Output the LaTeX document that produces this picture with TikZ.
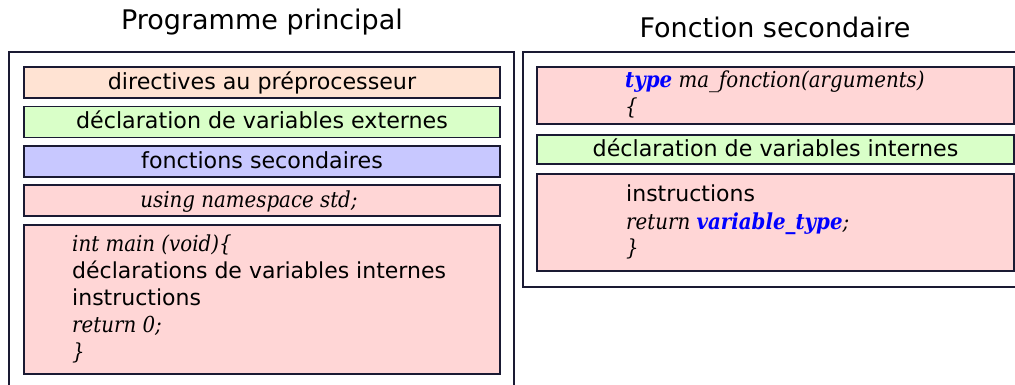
\documentclass[tikz,border=0pt]{standalone}
\usepackage{fontspec}
\setmainfont[FakeStretch=0.9]{DejaVu Serif}
\setsansfont{DejaVu Sans}
\definecolor{bord}{RGB}{26,26,51}
\definecolor{cpeach}{RGB}{255,227,211}
\definecolor{cgreen}{RGB}{217,255,200}
\definecolor{cblue}{RGB}{200,200,255}
\definecolor{cpink}{RGB}{255,214,214}
\definecolor{kw}{RGB}{0,0,255}
\tikzset{
  frame/.style={draw=bord, line width=1.2pt},
  box/.style={draw=bord, line width=1.2pt, rectangle, inner sep=0pt, minimum width=476pt},
  onel/.style={box, text height=14pt, text depth=0pt, font=\sffamily\fontsize{22.2}{26}\selectfont},
  title/.style={font=\sffamily\fontsize{27}{31}\selectfont, inner sep=0pt, anchor=base},
  code/.style={anchor=base west, inner sep=0pt, font=\itshape\fontsize{22}{26}\selectfont},
  plain/.style={anchor=base west, inner sep=0pt, font=\sffamily\fontsize{22}{26}\selectfont},
}
\newcommand{\kwd}[1]{\textcolor{kw}{\textbf{\textit{#1}}}}
\begin{document}
\begin{tikzpicture}[x=1pt,y=-1pt]
\useasboundingbox (0,0) rectangle (1015,385);
% titles
\node[title] (t1) at (262,30) {Programme principal};
\node[title] (t2) at (775,38) {Fonction secondaire};
% outer frames
\draw[frame] (9,395) -- (9,52) -- (514,52) -- (514,395);
\draw[frame] (523,52) rectangle (1020,287);
% left column
\node[onel, fill=cpeach, minimum height=31pt] (dir) at (262,82.5) {directives au préprocesseur};
\node[onel, fill=cgreen, minimum height=31pt] (ext) at (262,122) {déclaration de variables externes};
\node[onel, fill=cblue, minimum height=31pt] (fs) at (262,161.5) {fonctions secondaires};
\node[box, fill=cpink, minimum height=31pt] (ns) at (262,200.5) {};
\node[code, anchor=base] (nst) at (249,207.5) {using namespace std;};
\node[box, fill=cpink, minimum height=149pt] (main) at (262,299.5) {};
\node[code] (m1) at (72,251) {int main (void)\{};
\node[plain] (m2) at (72,278) {déclarations de variables internes};
\node[plain] (m3) at (72,305) {instructions};
\node[code] (m4) at (72,332) {return 0;};
\node[code] (m5) at (72,359) {\}};
% right column
\node[box, fill=cpink, minimum width=477pt, minimum height=57pt] (sig) at (775.5,95.5) {};
\node[code] (f1) at (625,88) {\kwd{type} ma\_fonction(arguments)};
\node[code] (f2) at (625,115) {\{};
\node[onel, fill=cgreen, minimum width=477pt, minimum height=29pt] (int) at (775.5,149.5) {déclaration de variables internes};
\node[box, fill=cpink, minimum width=477pt, minimum height=97pt] (ins) at (775.5,222.5) {};
\node[plain] (g1) at (626,201.5) {instructions};
\node[code] (g2) at (626,229) {return \kwd{variable\_type};};
\node[code] (g3) at (626,255) {\}};
\end{tikzpicture}
\end{document}
